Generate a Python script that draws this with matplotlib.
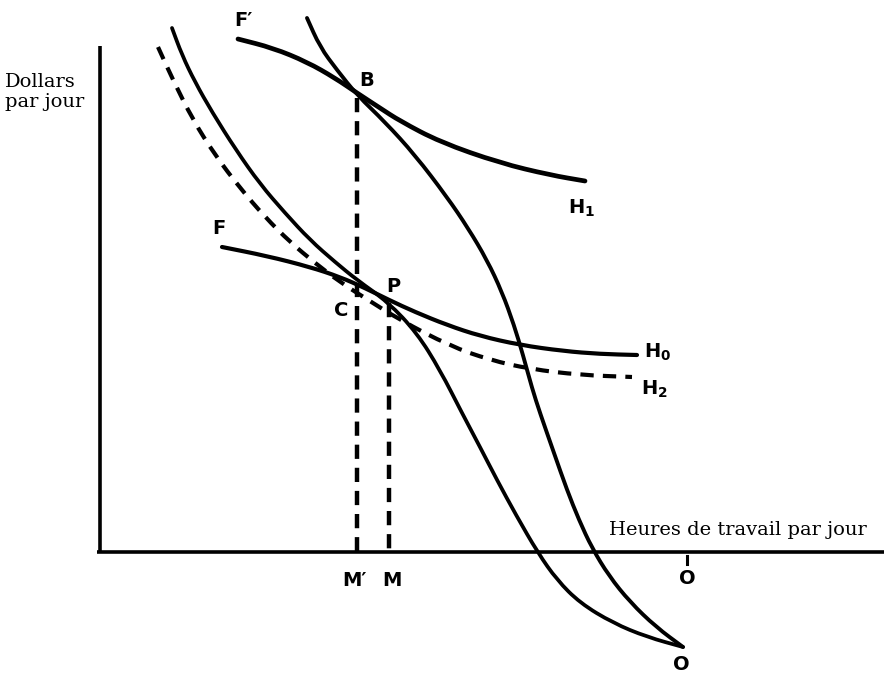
import matplotlib
matplotlib.use("Agg")
import matplotlib.pyplot as plt
from matplotlib.path import Path
from matplotlib.patches import PathPatch

# Curves (pixel-like coordinates, y grows downward)
curve_FpH1_x = [238, 273, 307, 335, 357, 380, 400, 440, 500, 550, 585]
curve_FpH1_y = [39, 48, 62, 78, 93, 108, 121, 142, 163, 175, 181]

curve_right_x = [307, 320, 337, 357, 385, 415, 447, 468, 487, 502, 514, 523, 532, 540, 554, 567, 579, 592, 609, 630, 656, 683]
curve_right_y = [18, 47, 70, 95, 122, 155, 197, 228, 260, 292, 325, 355, 388, 413, 453, 490, 520, 548, 576, 602, 627, 647]

curve_left_x = [172, 182, 195, 212, 236, 260, 285, 310, 335, 357, 388, 417, 440, 462, 480, 497, 516, 538, 557, 580, 613, 647, 683]
curve_left_y = [28, 55, 82, 112, 150, 184, 213, 240, 262, 280, 302, 333, 370, 413, 447, 480, 515, 553, 580, 603, 623, 637, 647]

curve_H2_x = [158, 173, 193, 215, 240, 265, 290, 315, 340, 365, 400, 450, 490, 530, 580, 632]
curve_H2_y = [47, 80, 120, 155, 188, 217, 242, 263, 282, 298, 320, 346, 360, 369, 375, 377]

curve_FH0_x = [222, 267, 310, 340, 365, 389, 415, 447, 480, 520, 563, 600, 637]
curve_FH0_y = [247, 256, 267, 277, 288, 300, 312, 325, 336, 345, 351, 354, 355]

vline_Mp_x = 357
vline_Mp_y = [98, 551]
vline_M_x = 389
vline_M_y = [303, 551]

labels = ["F\u2032", "B", "H$_\\mathbf{1}$", "F", "P", "C", "H$_\\mathbf{0}$", "H$_\\mathbf{2}$", "M\u2032", "M", "O", "O"]
label_x = [243, 367, 582, 219, 393, 341, 658, 654, 354, 392, 687, 681]
label_y = [20, 80, 208, 229, 287, 311, 352, 389, 580, 580, 578, 664]


def smooth_path(xs, ys):
    pts = list(zip(xs, ys))
    verts = [pts[0]]
    codes = [Path.MOVETO]
    if len(pts) == 2:
        verts.append(pts[1]); codes.append(Path.LINETO)
        return Path(verts, codes)
    mids = [((pts[i][0] + pts[i + 1][0]) / 2, (pts[i][1] + pts[i + 1][1]) / 2)
            for i in range(len(pts) - 1)]
    verts.append(mids[0]); codes.append(Path.LINETO)
    for i in range(1, len(pts) - 1):
        verts.append(pts[i]); codes.append(Path.CURVE3)
        verts.append(mids[i]); codes.append(Path.CURVE3)
    verts.append(pts[-1]); codes.append(Path.LINETO)
    return Path(verts, codes)


fig = plt.figure(figsize=(8.84, 6.75), dpi=100)
ax = fig.add_axes([0, 0, 1, 1])
ax.set_xlim(0, 884)
ax.set_ylim(675, 0)
ax.axis("off")

k = "black"
# axes
ax.plot([100, 100], [46, 553], color=k, lw=2.6, solid_capstyle="butt")
ax.plot([97, 884], [552, 552], color=k, lw=2.6, solid_capstyle="butt")


def draw(xs, ys, lw, dashes=None):
    p = PathPatch(smooth_path(xs, ys), fill=False, edgecolor=k, lw=lw,
                  capstyle="round" if dashes is None else "butt", joinstyle="round")
    if dashes is not None:
        p.set_linestyle((0, dashes))
    ax.add_patch(p)


draw(curve_FpH1_x, curve_FpH1_y, 3.4)
draw(curve_right_x, curve_right_y, 2.8)
draw(curve_left_x, curve_left_y, 2.7)
draw(curve_FH0_x, curve_FH0_y, 3.0)
draw(curve_H2_x, curve_H2_y, 3.0, dashes=[3.2, 2.2])
ax.plot([vline_Mp_x, vline_Mp_x], vline_Mp_y, color=k, lw=3.2, dashes=[3.2, 2.0])
ax.plot([vline_M_x, vline_M_x], vline_M_y, color=k, lw=3.2, dashes=[3.2, 2.0])

# O' prime tick
ax.plot([687, 687], [556, 564], color=k, lw=2.2)

for t, x, y in zip(labels, label_x, label_y):
    ax.text(x, y, t, fontsize=14, fontweight="bold", family="DejaVu Sans",
            ha="center", va="center", color=k)

ax.text(5, 92, "Dollars\npar jour", fontsize=14, family="DejaVu Serif",
        ha="left", va="center", linespacing=1.15, color=k)
ax.text(867, 530, "Heures de travail par jour", fontsize=14, family="DejaVu Serif",
        ha="right", va="center", color=k)

fig.savefig("out.png", dpi=100)
